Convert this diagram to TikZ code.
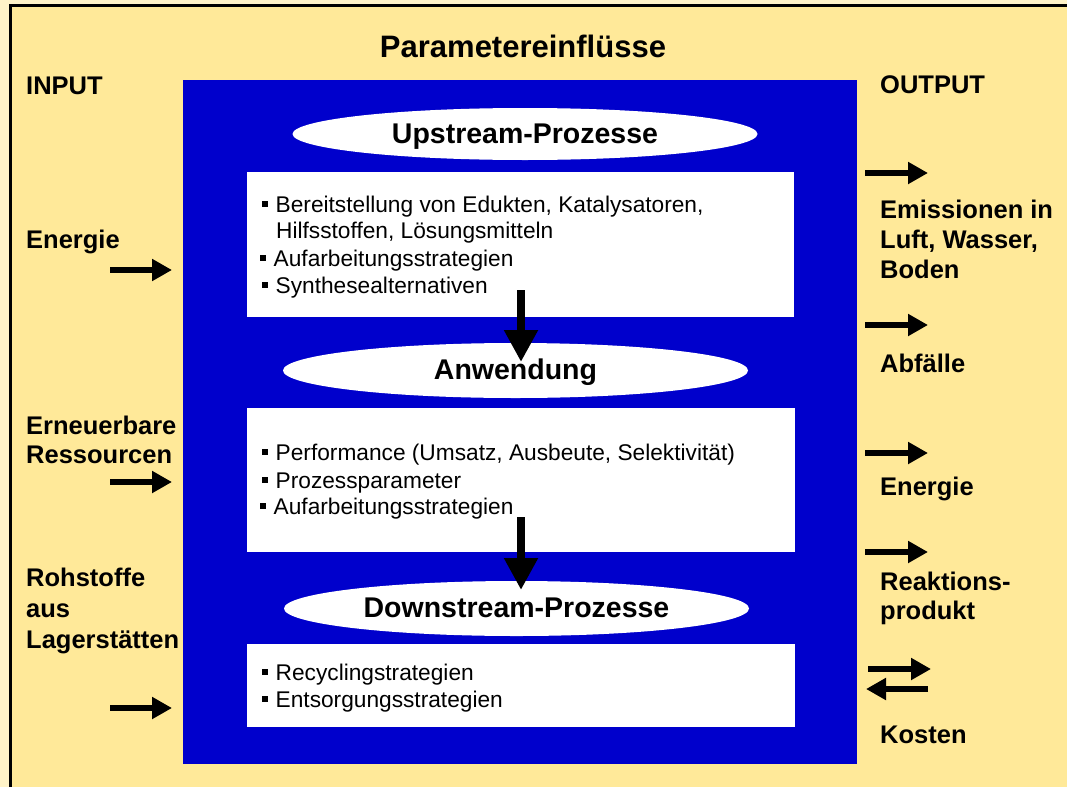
\documentclass[tikz,border=0pt]{standalone}
\usepackage{fontspec}
\setmainfont{Liberation Sans}
\usetikzlibrary{shapes.geometric,arrows.meta}
\definecolor{bgyellow}{HTML}{FFE999}
\definecolor{stripyellow}{HTML}{FFF3C8}
\definecolor{panelblue}{HTML}{0000CC}
\newcommand\bulsq{\rule[5pt]{5.5pt}{6pt}\hspace{8pt}}
\begin{document}
\begin{tikzpicture}[x=1pt,y=-1pt,
  side/.style={anchor=base west, inner sep=0pt, font=\bfseries\fontsize{25.5}{30}\selectfont},
  item/.style={anchor=base west, inner sep=0pt, font=\fontsize{22.7}{27}\selectfont},
  head/.style={ellipse, fill=white, inner sep=0pt, minimum width=465pt, text height=22pt, text depth=4pt, font=\bfseries\fontsize{28.5}{32}\selectfont},
  whitebox/.style={rectangle, fill=white, inner sep=0pt},
  flowarrow/.style={line width=8.5pt, -{Triangle[width=32pt,length=32pt]}},
  ioarrow/.style={line width=6pt, -{Triangle[width=21pt,length=20pt]}},
]
\useasboundingbox (0,0) rectangle (1067,787);
% background and frame
\fill[stripyellow] (0,0) rectangle (1067,787);
\fill[bgyellow] (10.5,5.5) rectangle (1067,787);
\draw[line width=3pt] (10.5,787) |- (1067,5.5);

% title
\node[anchor=base, inner sep=0pt, font=\bfseries\fontsize{31}{36}\selectfont] (title) at (523,57) {Parametereinflüsse};

% blue panel
\node[fill=panelblue, minimum width=674pt, minimum height=684pt, inner sep=0pt] (panel) at (520,422) {};

% white boxes
\node[whitebox, minimum width=547pt, minimum height=145pt] (box1) at (520.5,244.5) {};
\node[whitebox, minimum width=548pt, minimum height=144pt] (box2) at (521,480) {};
\node[whitebox, minimum width=548pt, minimum height=83pt] (box3) at (521,685.5) {};

% ellipses
\node[head, minimum height=52pt] (up) at (525,134) {Upstream-Prozesse};
\node[head, minimum height=55pt] (anw) at (515.5,370.5) {Anwendung};
\node[head, minimum height=55pt] (down) at (516.5,608.5) {Downstream-Prozesse};

% box texts
\node[item] (b1l1) at (262,212) {\bulsq Bereitstellung von Edukten, Katalysatoren,};
\node[item] (b1l2) at (276,238) {Hilfsstoffen, Lösungsmitteln};
\node[item] (b1l3) at (260,266) {\bulsq Aufarbeitungsstrategien};
\node[item] (b1l4) at (262,293) {\bulsq Synthesealternativen};

\node[item] (b2l1) at (262,460) {\bulsq Performance (Umsatz, Ausbeute, Selektivität)};
\node[item] (b2l2) at (262,488) {\bulsq Prozessparameter};
\node[item] (b2l3) at (260,514) {\bulsq Aufarbeitungsstrategien};

\node[item] (b3l1) at (262,680) {\bulsq Recyclingstrategien};
\node[item] (b3l2) at (262,707) {\bulsq Entsorgungsstrategien};

% flow arrows
\coordinate (f1s) at (521,290);
\coordinate (f1e) at (521,362);
\coordinate (f2s) at (521,517);
\coordinate (f2e) at (521,590);
\draw[flowarrow] (f1s) -- (f1e);
\draw[flowarrow] (f2s) -- (f2e);

% input side
\node[side] (input) at (26,94) {INPUT};
\node[side] (inE) at (26,248) {Energie};
\node[side] (inR1) at (26,434) {Erneuerbare};
\node[side] (inR2) at (26,463) {Ressourcen};
\node[side] (inL1) at (26,586) {Rohstoffe};
\node[side] (inL2) at (26,617) {aus};
\node[side] (inL3) at (26,648) {Lagerstätten};

\coordinate (ia1s) at (110,270); \coordinate (ia1e) at (172,270);
\coordinate (ia2s) at (110,482); \coordinate (ia2e) at (172,482);
\coordinate (ia3s) at (110,708); \coordinate (ia3e) at (172,708);
\draw[ioarrow] (ia1s) -- (ia1e);
\draw[ioarrow] (ia2s) -- (ia2e);
\draw[ioarrow] (ia3s) -- (ia3e);

% output side
\node[side] (output) at (880,93) {OUTPUT};
\node[side] (outEm1) at (880,218) {Emissionen in};
\node[side] (outEm2) at (880,248) {Luft, Wasser,};
\node[side] (outEm3) at (880,278) {Boden};
\node[side] (outAb) at (880,372) {Abfälle};
\node[side] (outEn) at (880,495) {Energie};
\node[side] (outRe1) at (880,590) {Reaktions-};
\node[side] (outRe2) at (880,619) {produkt};
\node[side] (outKo) at (880,743) {Kosten};

\coordinate (oa1s) at (865,173); \coordinate (oa1e) at (928,173);
\coordinate (oa2s) at (865,325); \coordinate (oa2e) at (928,325);
\coordinate (oa3s) at (865,453); \coordinate (oa3e) at (928,453);
\coordinate (oa4s) at (865,552); \coordinate (oa4e) at (928,552);
\coordinate (ka1s) at (868,669); \coordinate (ka1e) at (931,669);
\coordinate (ka2s) at (928,689); \coordinate (ka2e) at (866,689);
\draw[ioarrow] (oa1s) -- (oa1e);
\draw[ioarrow] (oa2s) -- (oa2e);
\draw[ioarrow] (oa3s) -- (oa3e);
\draw[ioarrow] (oa4s) -- (oa4e);
\draw[ioarrow] (ka1s) -- (ka1e);
\draw[ioarrow] (ka2s) -- (ka2e);
\end{tikzpicture}
\end{document}
